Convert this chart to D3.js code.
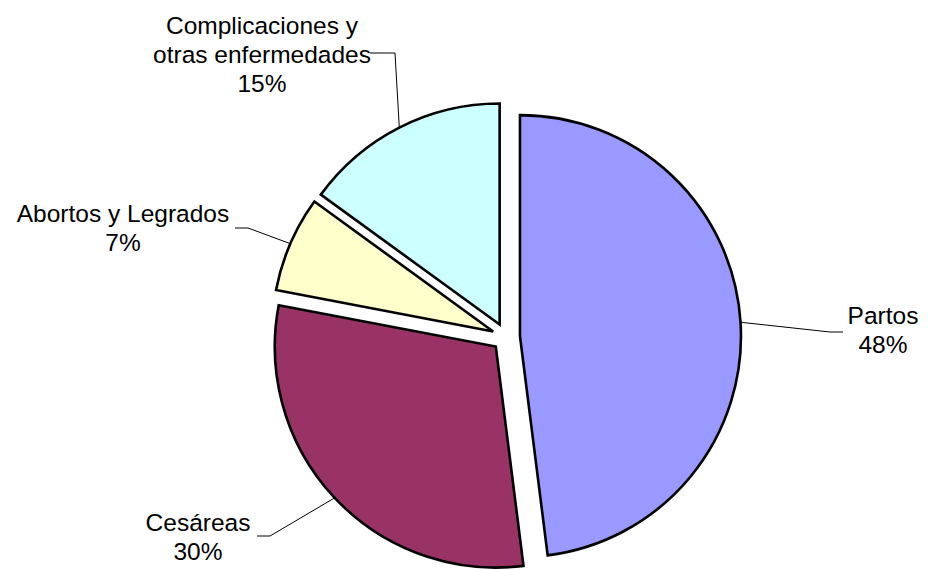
<!DOCTYPE html>
<html>
<head>
<meta charset="utf-8">
<script src="https://cdn.jsdelivr.net/npm/d3@7"></script>
<style>
  body { margin: 0; background: #fff; }
  text { font-family: "Liberation Sans", Arial, sans-serif; font-size: 24.5px; fill: #000; }
</style>
</head>
<body>
<div id="chart"></div>
<script>
// data
const categories = ["Partos", "Cesáreas", "Abortos y Legrados", "Complicaciones y otras enfermedades"];
const values = [48, 30, 7, 15];
const labelLines = [["Partos", "48%"], ["Cesáreas", "30%"], ["Abortos y Legrados", "7%"], ["Complicaciones y", "otras enfermedades", "15%"]];
const colors = ["#9999FF", "#993366", "#FFFFCC", "#CCFFFF"];

const width = 928, height = 569;
const cx = 506, cy = 337, radius = 221, explode = 14;

// label layout: elbow point, line end, text centre and first baseline
const labelLayout = [
    { elbow: [830, 332], end: [843, 332], tx: 883, ty: 324 },
    { elbow: [270, 536], end: [257, 536], tx: 198, ty: 531 },
    { elbow: [248, 228], end: [235, 228], tx: 123, ty: 222 },
    { elbow: [395, 53], end: [370, 53], tx: 262, ty: 34 }
];
const lineStep = 29;

const svg = d3.select("#chart").append("svg")
    .attr("width", width)
    .attr("height", height);

const pie = d3.pie().sort(null).value(d => d)(values);
const arc = d3.arc().innerRadius(0).outerRadius(radius);

const offset = (a, d) => [Math.sin(a) * d, -Math.cos(a) * d];

const g = svg.append("g").attr("transform", `translate(${cx},${cy})`);

g.selectAll("path.slice")
    .data(pie)
    .enter()
    .append("path")
    .attr("class", "slice")
    .attr("d", arc)
    .attr("transform", d => {
        const [dx, dy] = offset((d.startAngle + d.endAngle) / 2, explode);
        return `translate(${dx},${dy})`;
    })
    .attr("fill", (d, i) => colors[i])
    .attr("stroke", "#000")
    .attr("stroke-width", 2.6)
    .attr("stroke-linejoin", "miter");

// leader lines start on the arc at mid angle
pie.forEach((d, i) => {
    const mid = (d.startAngle + d.endAngle) / 2;
    const [ox, oy] = offset(mid, explode);
    const [ax, ay] = offset(mid, radius);
    const start = [cx + ox + ax, cy + oy + ay];
    const L = labelLayout[i];
    svg.append("path")
        .attr("d", d3.line()([start, L.elbow, L.end]))
        .attr("fill", "none")
        .attr("stroke", "#000")
        .attr("stroke-width", 1);

    const t = svg.append("text")
        .attr("text-anchor", "middle");
    labelLines[i].forEach((s, k) => {
        t.append("tspan")
            .attr("x", L.tx)
            .attr("y", L.ty + k * lineStep)
            .text(s);
    });
});
</script>
</body>
</html>
